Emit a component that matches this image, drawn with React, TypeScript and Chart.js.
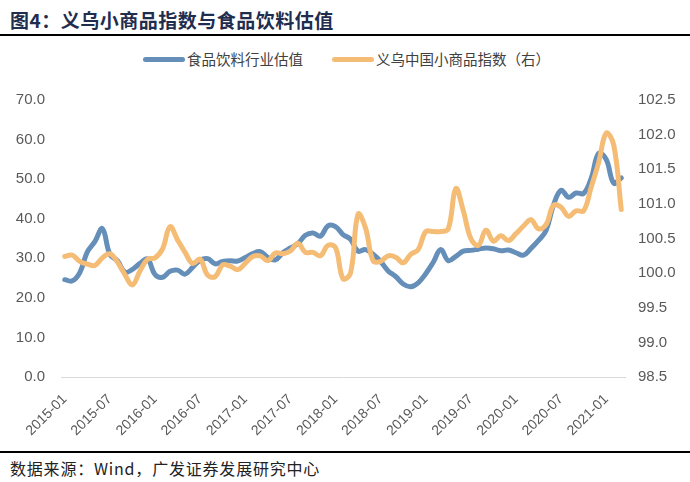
import React, { useEffect, useRef } from "react";
import { Chart, registerables } from "chart.js";

Chart.register(...registerables);

const months: string[] = [];
for (let y = 2015; y <= 2021; y++) {
  for (let m = 1; m <= 12; m++) {
    if (y === 2021 && m > 3) break;
    months.push(`${y}-${m < 10 ? "0" + m : m}`);
  }
}

const tickLabels = [
  "2015-01", "2015-07", "2016-01", "2016-07", "2017-01", "2017-07", "2018-01",
  "2018-07", "2019-01", "2019-07", "2020-01", "2020-07", "2021-01",
];

const foodBevValuation = [
  24.6, 24.3, 26.4, 31.6, 34.2, 37.5, 31.0, 29.4, 26.5, 27.2, 28.7, 29.8,
  25.9, 25.2, 26.7, 27.0, 26.0, 27.7, 29.5, 29.9, 28.6, 29.2, 29.4, 29.3,
  30.2, 31.2, 31.7, 30.2, 29.6, 31.4, 32.6, 33.7, 35.8, 36.4, 35.6, 38.2,
  38.0, 36.0, 34.8, 31.8, 32.2, 31.0, 29.2, 26.8, 25.4, 23.5, 22.8, 23.8,
  26.1, 29.0, 32.2, 29.4, 30.5, 31.8, 32.0, 32.3, 32.6, 32.4, 31.9, 32.1,
  31.4, 30.8, 32.5, 34.5, 37.0, 43.5, 47.2, 45.4, 46.5, 46.4, 50.2, 56.5,
  55.0, 49.0, 50.3,
];

const yiwuIndex = [
  100.24, 100.26, 100.17, 100.13, 100.11, 100.22, 100.28, 100.16, 99.98, 99.83, 100.03, 100.2,
  100.22, 100.35, 100.67, 100.48, 100.3, 100.14, 100.2, 99.97, 99.95, 100.12, 100.1, 100.05,
  100.14, 100.24, 100.25, 100.18, 100.29, 100.28, 100.32, 100.43, 100.3, 100.3, 100.25, 100.4,
  100.37, 99.92, 100.0, 100.85, 100.65, 100.18, 100.17, 100.25, 100.23, 100.15, 100.27, 100.34,
  100.6, 100.6, 100.6, 100.64, 101.22, 100.9, 100.5, 100.4, 100.62, 100.46, 100.54, 100.47,
  100.57, 100.68, 100.77, 100.64, 100.7, 100.98, 100.95, 100.82, 100.9, 100.9, 101.24, 101.6,
  102.02, 101.85, 100.92,
];

const seriesNames = ["食品饮料行业估值", "义乌中国小商品指数（右）"];
const blue = "#658FB8";
const orange = "#F4BC74";
const tickFont = "'Liberation Sans', Arial, sans-serif";
const cjkFont = "'Noto Sans CJK SC', 'Liberation Sans', sans-serif";

export default function App() {
  const ref = useRef<HTMLCanvasElement | null>(null);

  useEffect(() => {
    if (!ref.current) return;
    const chart = new Chart(ref.current, {
      type: "line",
      data: {
        labels: months,
        datasets: [
          {
            label: seriesNames[0],
            data: foodBevValuation,
            borderColor: blue,
            backgroundColor: blue,
            borderWidth: 5,
            pointRadius: 0,
            tension: 0.4,
            yAxisID: "y",
            order: 1,
            borderCapStyle: "round",
          },
          {
            label: seriesNames[1],
            data: yiwuIndex,
            borderColor: orange,
            backgroundColor: orange,
            borderWidth: 5,
            pointRadius: 0,
            tension: 0.4,
            yAxisID: "y1",
            order: 0,
            borderCapStyle: "round",
          },
        ],
      },
      options: {
        animation: false,
        responsive: true,
        maintainAspectRatio: false,
        layout: { padding: { top: 19, left: 0, right: 0, bottom: 0 } },
        plugins: { legend: { display: false }, tooltip: { enabled: false } },
        scales: {
          x: {
            type: "category",
            offset: true,
            grid: { display: false, drawTicks: false },
            border: { display: true, color: "#D9D9D9", width: 1 },
            ticks: {
              autoSkip: false,
              maxRotation: 45,
              minRotation: 45,
              padding: 14,
              color: "#595959",
              font: { family: tickFont, size: 14 },
              callback: (_v: any, i: number) =>
                tickLabels.includes(months[i]) ? months[i] : null,
            },
            afterFit: (s: any) => {
              s.height = 73;
            },
          },
          y: {
            position: "left",
            min: 0,
            max: 70,
            grid: { display: false, drawTicks: false },
            border: { display: false },
            ticks: {
              stepSize: 10,
              padding: 16,
              color: "#595959",
              font: { family: tickFont, size: 15 },
              callback: (v: any) => Number(v).toFixed(1),
            },
            afterFit: (s: any) => {
              s.width = 61;
            },
          },
          y1: {
            position: "right",
            min: 98.5,
            max: 102.5,
            grid: { display: false, drawTicks: false },
            border: { display: false },
            ticks: {
              stepSize: 0.5,
              padding: 13,
              color: "#595959",
              font: { family: tickFont, size: 15 },
              callback: (v: any) => Number(v).toFixed(1),
            },
            afterFit: (s: any) => {
              s.width = 65;
            },
          },
        },
      },
    });
    return () => chart.destroy();
  }, []);

  const legendItem = (left: number, color: string, text: string) => (
    <div
      style={{
        position: "absolute",
        left,
        top: 49,
        display: "flex",
        alignItems: "center",
        fontSize: 14.5,
        lineHeight: "20px",
        color: "#404040",
        whiteSpace: "nowrap",
      }}
    >
      <span
        style={{
          display: "inline-block",
          width: 42,
          height: 5,
          borderRadius: 3,
          background: color,
          marginRight: 2,
        }}
      />
      <span>{text}</span>
    </div>
  );

  return (
    <div
      style={{
        position: "absolute",
        left: 0,
        top: 0,
        width: 690,
        height: 482,
        background: "#fff",
        overflow: "hidden",
        fontFamily: cjkFont,
      }}
    >
      <div
        style={{
          position: "absolute",
          left: 10,
          top: 6,
          fontSize: 19,
          fontWeight: 700,
          color: "#1F2D4F",
          lineHeight: "28px",
          letterSpacing: 0.5,
          whiteSpace: "nowrap",
        }}
      >
        图4：义乌小商品指数与食品饮料估值
      </div>
      <div style={{ position: "absolute", left: 0, top: 34, width: 690, height: 2, background: "#000" }} />
      {legendItem(143, blue, seriesNames[0])}
      {legendItem(332, orange, seriesNames[1])}
      <div style={{ position: "absolute", left: 0, top: 75, width: 690, height: 375 }}>
        <canvas ref={ref} />
      </div>
      <div style={{ position: "absolute", left: 0, top: 451, width: 690, height: 2, background: "#000" }} />
      <div
        style={{
          position: "absolute",
          left: 10,
          top: 457,
          fontSize: 16,
          lineHeight: "22px",
          color: "#222",
          letterSpacing: 0.8,
          whiteSpace: "nowrap",
        }}
      >
        数据来源：Wind，广发证券发展研究中心
      </div>
    </div>
  );
}
